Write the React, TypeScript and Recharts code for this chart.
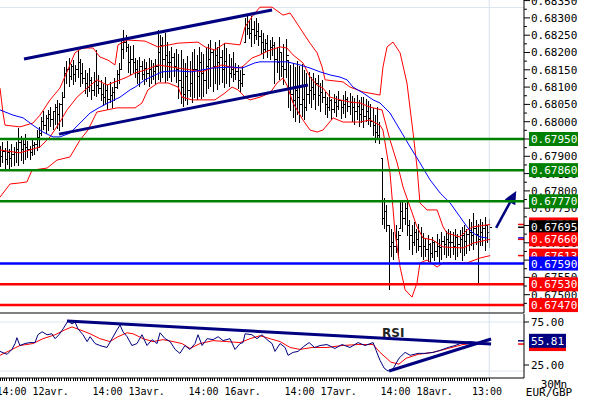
import React from 'react';
import { ComposedChart, Bar, Line, XAxis, YAxis, ReferenceLine, ReferenceDot } from 'recharts';

// EUR/GBP 30Mn. Prices are kept in 0.00001 steps above 0.67000
const BASE = 0.67;
const px = (u: number) => BASE + u / 100000;

const highs = [
  930, 940, 925, 945, 920, 935, 928, 942,
  982, 960, 950, 965,
  945, 930, 950, 940, 975, 985,
  1015, 1030, 1020, 1035, 1042, 1030, 1050, 1063, 1055, 1086,
  1158, 1175, 1184, 1168, 1178, 1165, 1207, 1180, 1170,
  1150, 1140, 1155, 1130, 1145, 1207, 1135,
  1120, 1110, 1129, 1105, 1115, 1100, 1125,
  1150, 1170,
  1240, 1265, 1250, 1225, 1220,
  1222, 1185, 1178, 1187, 1175, 1180, 1172, 1185, 1178, 1170, 1182,
  1265, 1250, 1245, 1255, 1230,
  1205, 1216, 1198, 1210,
  1195, 1207, 1180, 1170, 1190, 1175, 1200,
  1210, 1193, 1216, 1200, 1195, 1212,
  1225, 1236, 1210, 1230, 1215, 1235, 1207, 1228,
  1213, 1195, 1185, 1200, 1170,
  1165, 1150, 1160,
  1300, 1308, 1295, 1305, 1290, 1300, 1285,
  1265, 1255, 1240, 1250, 1236, 1245,
  1230, 1215, 1245, 1200, 1225, 1240,
  1178, 1165, 1170, 1158, 1175, 1160, 1168, 1150, 1140,
  1144, 1130, 1140, 1125, 1135, 1112, 1120,
  1085, 1070, 1092, 1065, 1080, 1075, 1088, 1063, 1078, 1090, 1070, 1082,
  1075, 1068, 1077, 1063, 1070, 1072, 1065, 1060, 1050,
  1040, 1020, 1042, 1000,
  895, 780, 760, 700,
  690, 680, 700, 685,
  774, 770, 765, 775,
  716, 700, 710, 690, 705, 695,
  678, 660, 672, 650, 668, 655, 675, 662, 680, 670, 685, 690,
  685, 680, 690, 675, 688, 695, 700, 690,
  720, 710, 735, 715, 705, 720,
  710, 725, 700, 720,
];

const lows = [
  870, 880, 862, 875, 858, 868, 872, 880,
  872, 885, 878, 890,
  895, 890, 900, 905, 915, 925,
  960, 975, 965, 972, 985, 975, 990, 980, 972, 985,
  1071, 1110, 1100, 1120, 1105, 1115, 1125, 1100, 1108,
  1080, 1070, 1085, 1063, 1075, 1072, 1080,
  1060, 1045, 1050, 1034, 1055, 1040, 1060,
  1095, 1110,
  1150, 1180, 1200, 1140, 1135,
  1140, 1125, 1110, 1100, 1120, 1105, 1115, 1100, 1110, 1120, 1105,
  1120, 1115, 1125, 1112, 1118,
  1125, 1115, 1129, 1112,
  1065, 1050, 1042, 1060, 1048, 1071, 1055,
  1068, 1063, 1070, 1065, 1071, 1080,
  1095, 1100, 1086, 1110, 1092, 1105, 1112, 1098,
  1110, 1100, 1126, 1115, 1120,
  1095, 1086, 1100,
  1230, 1250, 1240, 1216, 1225, 1236, 1220,
  1195, 1180, 1200, 1185, 1178, 1190,
  1110, 1140, 1120, 1130, 1106, 1125,
  1040, 1030, 1010, 1000, 1020, 996, 1015, 1005, 1030,
  1050, 1040, 1063, 1035, 1045, 1028, 1055,
  1020, 1010, 1030, 1005, 1025, 1015, 1034, 1008, 1022, 1012, 1028, 1018,
  1000, 990, 1005, 985, 995, 982, 1000, 990, 985,
  960, 938, 950, 935,
  700, 690, 680, 514,
  610, 600, 620, 605,
  690, 680, 700, 670,
  630, 615, 640, 620, 625, 610,
  600, 610, 595, 588, 605, 598, 610, 592, 600, 615, 605, 612,
  605, 615, 600, 610, 620, 598, 612, 618,
  625, 640, 630, 645, 534, 640,
  640, 625, 650, 635,
];

const closes = [
  900, 915, 890, 910, 895, 905, 912, 920,
  940, 920, 935, 925,
  920, 910, 930, 935, 955, 965,
  1000, 990, 1010, 1020, 1005, 1030, 1040, 1020, 1050, 1070,
  1140, 1150, 1130, 1160, 1135, 1150, 1170, 1140, 1125,
  1110, 1100, 1120, 1090, 1115, 1105, 1095,
  1080, 1070, 1090, 1065, 1075, 1085, 1100,
  1135, 1150,
  1210, 1230, 1215, 1170, 1180,
  1170, 1150, 1140, 1160, 1135, 1155, 1140, 1150, 1130, 1145, 1160,
  1200, 1220, 1180, 1190, 1170,
  1170, 1185, 1160, 1150,
  1120, 1100, 1080, 1130, 1090, 1110, 1150,
  1150, 1130, 1170, 1140, 1120, 1160,
  1180, 1200, 1160, 1190, 1170, 1185, 1150, 1175,
  1160, 1140, 1150, 1135, 1145,
  1120, 1110, 1135,
  1280, 1270, 1255, 1265, 1250, 1260, 1245,
  1230, 1210, 1225, 1205, 1215, 1220,
  1180, 1170, 1200, 1160, 1150, 1190,
  1100, 1080, 1060, 1090, 1070, 1050, 1065, 1040, 1080,
  1090, 1100, 1080, 1110, 1075, 1085, 1070,
  1050, 1040, 1060, 1035, 1055, 1045, 1060, 1040, 1050, 1065, 1045, 1055,
  1040, 1030, 1045, 1020, 1035, 1015, 1030, 1010, 1000,
  990, 970, 960, 950,
  720, 740, 700, 640,
  650, 640, 660, 670,
  740, 720, 750, 700,
  670, 650, 680, 660, 640, 665,
  640, 630, 645, 620, 650, 625, 640, 635, 655, 645, 660, 650,
  650, 640, 665, 645, 660, 670, 655, 675,
  680, 670, 690, 675, 660, 680,
  690, 700, 680, 695,
];

// [bar index, price step]
const upperBand = [
  [0, 1097], [1.3, 1025], [2.2, 990], [8.7, 985], [14.4, 996], [17.5, 1019], [21.9, 1063],
  [26.2, 1097], [29.3, 1144], [32.8, 1199], [35.9, 1213], [40.7, 1213], [43.7, 1187],
  [47.2, 1178], [50.3, 1164], [51.6, 1222], [55.6, 1236], [63.4, 1233], [69.1, 1216],
  [77.9, 1227], [86.6, 1230], [89.7, 1216], [94, 1207], [98.4, 1227], [105, 1222],
  [107.2, 1274], [110.2, 1303], [113.7, 1331], [119, 1331], [123.8, 1308], [126.9, 1314],
  [131.2, 1271], [135.6, 1227], [138.7, 1199], [140.9, 1158], [142.2, 1121], [150, 1115],
  [153.1, 1100], [158.8, 1086], [166.2, 1077], [167.5, 1158], [169.3, 1216], [171.9, 1230],
  [175, 1199], [178, 1112], [180.7, 967], [182.4, 869], [183.7, 765], [186.8, 745],
  [191.2, 745], [193.8, 696], [195.5, 678], [201.2, 667], [204.3, 687], [206.9, 696],
  [214.4, 703],
];

const middleBand = [
  [0, 918], [8.7, 910], [17.5, 927], [21.9, 956], [26.2, 999], [29.3, 1034], [33.7, 1071],
  [38.1, 1097], [42.4, 1121], [46.8, 1106], [50.3, 1115], [55.6, 1129], [59.1, 1141],
  [63.4, 1149], [69.1, 1164], [77.9, 1155], [84, 1149], [88.4, 1144], [92.7, 1155],
  [97.1, 1164], [102.8, 1155], [105.9, 1158], [110.2, 1184], [113.7, 1193], [118.1, 1207],
  [122.5, 1216], [125.5, 1213], [128.2, 1193], [132.5, 1170], [135.6, 1129], [138.7, 1106],
  [141.3, 1097], [144.4, 1071], [148.7, 1063], [153.1, 1057], [157.5, 1054], [161.9, 1042],
  [167.1, 1034], [170.6, 947], [173.7, 881], [176.3, 811], [179.4, 753], [182.4, 696],
  [185, 664], [189.4, 658], [193.8, 638], [202.5, 635], [206.9, 649], [214.4, 660],
];

const lowerBand = [
  [0, 782], [4.4, 820], [8.7, 823], [11.8, 826], [14, 860], [20.6, 866], [24.9, 889],
  [30.6, 898], [35, 947], [38.5, 976], [42.4, 1028], [46.8, 1034], [51.2, 1040],
  [59.1, 1040], [62.1, 1054], [64.7, 1092], [69.1, 1112], [73.5, 1112], [77.9, 1100],
  [79.6, 1071], [84, 1063], [94, 1063], [98.4, 1083], [101.5, 1100], [104.1, 1092],
  [107.2, 1071], [109.4, 1063], [113.7, 1071], [118.1, 1083], [121.2, 1112], [123.8, 1126],
  [125.5, 1106], [128.2, 1054], [132.5, 1005], [135.6, 976], [138.7, 970], [141.3, 976],
  [145.7, 1011], [150, 999], [157.5, 999], [161.9, 1005], [166.2, 990], [167.5, 976],
  [170.6, 852], [172.8, 678], [175, 580], [177.2, 514], [180.2, 493], [182.4, 534],
  [183.7, 592], [186.8, 600], [191.2, 580], [193.8, 592], [204.3, 592], [210, 606],
  [214.4, 613],
];

const movingAvg = [
  [0, 1034], [5.7, 1019], [10.1, 1011], [14.4, 990], [18.8, 970], [23.2, 956], [26.2, 956],
  [30.6, 967], [35, 996], [39.4, 1025], [43.7, 1042], [48.1, 1057], [52.5, 1071],
  [56.9, 1092], [59.1, 1100], [63.4, 1121], [67.8, 1135], [70.9, 1144], [76.6, 1147],
  [84, 1144], [92.7, 1155], [101.5, 1158], [105.9, 1155], [111.5, 1170], [113.7, 1173],
  [125.5, 1173], [131.2, 1164], [135.6, 1155], [140, 1144], [144.4, 1135], [148.7, 1129],
  [151.8, 1121], [154.4, 1100], [158.8, 1083], [163.2, 1063], [166.2, 1054], [170.6, 1025],
  [175, 976], [179.4, 927], [183.7, 881], [188.1, 832], [192.5, 794], [196.9, 765],
  [201.2, 725], [204.3, 696], [206.9, 678], [210, 667], [213, 664],
];

// RSI [bar index, value]
const rsiLine = [
  [0, 45], [3.1, 42], [5.2, 47], [6.6, 53], [7.4, 59], [8.7, 51], [10.9, 53], [13.1, 54],
  [15.3, 54], [16.6, 62], [18.4, 65], [20.6, 62], [22.7, 63], [24.1, 58], [25.8, 62],
  [27.6, 68], [29.7, 76], [31.5, 73], [32.8, 75], [34.1, 68], [36.3, 62], [38.1, 55],
  [39.4, 60], [41.6, 53], [43.7, 51], [46.8, 49], [49, 58], [51.2, 67], [52.5, 72],
  [53.8, 65], [55.6, 60], [57.7, 51], [59.9, 53], [62.1, 62], [64.3, 51], [66.5, 57],
  [68.7, 53], [70, 64], [72.2, 58], [74.4, 55], [76.6, 47], [78.7, 43], [80.9, 51],
  [83.1, 47], [85.3, 53], [86.6, 62], [88.4, 51], [90.6, 58], [93.2, 57], [95.4, 60],
  [97.6, 56], [100.6, 58], [102.8, 47], [105, 53], [106.3, 54], [107.2, 63], [110.2, 62],
  [112.4, 58], [114.6, 62], [116.8, 57], [119, 53], [120.3, 45], [122.5, 53], [124.7, 49],
  [126, 41], [128.2, 44], [130.4, 45], [132.8, 50], [135.2, 54], [137.6, 49], [140, 51],
  [143, 52], [146.5, 48], [149.6, 52], [153.1, 49], [156.6, 54], [159.7, 51], [163.2, 54],
  [164.5, 46], [166.2, 36], [168, 28], [169.7, 25], [171.9, 27], [174.5, 38], [177.2, 44],
  [179.4, 41], [182.9, 43], [185.9, 43], [189.4, 44], [192.5, 46], [196, 49], [199, 51],
  [202.5, 54], [205.6, 55], [209.1, 54], [212.6, 56], [214, 55.81],
];

const rsiSignal = [
  [0, 41], [4.4, 46], [8.7, 51], [14.4, 53], [18.8, 58], [24.1, 62], [28.4, 67], [31.5, 70],
  [35, 67], [39.4, 63], [43.7, 58], [48.1, 55], [51.6, 60], [55.6, 64], [58.2, 63],
  [62.6, 58], [66.9, 55], [71.3, 57], [75.7, 55], [79.6, 53], [83.1, 48], [87.5, 53],
  [93.2, 56], [99.3, 55], [105, 54], [109.4, 58], [113.7, 61], [118.1, 58], [122.5, 55],
  [126.9, 49], [131.2, 47], [136.5, 49], [143, 49], [149.6, 51], [156.6, 52], [163.2, 52],
  [166.2, 44], [171, 34], [174.5, 32], [177.6, 38], [182.9, 42], [189.4, 44], [196, 48],
  [202.5, 52], [209.1, 54], [214, 53],
];

const priceTicks = [
  0.675, 0.6755, 0.676, 0.6765, 0.677, 0.6775, 0.678, 0.6785, 0.679,
  0.6795, 0.68, 0.6805, 0.681, 0.6815, 0.682, 0.6825, 0.683, 0.6835,
];
const rsiTicks = [75, 25];
const timeTickIdx = [5, 47, 89, 131, 173, 213];
const timeTickText = ['14:00 12avr.', '14:00 13avr.', '14:00 16avr.', '14:00 17avr.', '14:00 18avr.', '13:00'];

// horizontal levels drawn across the chart
const levels = [
  { price: 0.6795, color: '#008000' },
  { price: 0.6786, color: '#008000' },
  { price: 0.6777, color: '#008000' },
  { price: 0.6759, color: '#0000ff' },
  { price: 0.6753, color: '#ff0000' },
  { price: 0.6747, color: '#ff0000' },
];
// last values of the bands / close / average, marked at the axis
const lastValues = [
  { price: 0.67703, color: '#ff0000', box: true },
  { price: 0.67695, color: '#000000', box: true },
  { price: 0.67664, color: '#0000ff', box: false },
  { price: 0.67613, color: '#ff0000', box: true },
  { price: 0.6766, color: '#ff0000', box: true },
];

const X_DOMAIN = [0, 229.2];
const P_DOMAIN = [0.674471, 0.683517];
const RSI_DOMAIN = [17.86, 83.16];
const MONO = 'DejaVu Sans Mono';
const NAVY = '#000080';

const bars = highs.map((h, i) => {
  const open = i === 0 ? closes[0] : closes[i - 1];
  return {
    i,
    range: [px(lows[i]), px(h)],
    high: px(h),
    low: px(lows[i]),
    open: px(open),
    close: px(closes[i]),
  };
});
const barIdx = bars.map(b => b.i);
const toPts = (arr: number[][]) => arr.map(([i, u]) => ({ i, v: px(u) }));
const toRsi = (arr: number[][]) => arr.map(([i, v]) => ({ i, v }));

const minorTicks = priceTicks.slice(0, -1).map(p => p + 0.00025);
const allPriceTicks = [0.67475, ...priceTicks, ...minorTicks];

// boxes on the price axis, in drawing order (later ones on top)
const boxes = [...lastValues.filter(l => l.box), ...levels];
const boxTicks = boxes.map(b => b.price);

const OhlcShape = (props: any) => {
  const { x, y, width, height, payload } = props;
  if (x == null || !payload) return null;
  const cx = Math.round(x + width / 2) + 0.5;
  const top = Math.min(y, y + height);
  const h = Math.abs(height);
  const { high, low, open, close } = payload;
  const span = high - low || 1e-9;
  const clamp = (v: number) => Math.min(high, Math.max(low, v));
  const oy = top + ((high - clamp(open)) / span) * h;
  const cy = top + ((high - clamp(close)) / span) * h;
  return (
    <g stroke="#000" shapeRendering="crispEdges">
      <line x1={cx} x2={cx} y1={top} y2={top + h} strokeWidth={1.5} />
      <line x1={cx - 2} x2={cx} y1={oy} y2={oy} strokeWidth={1} />
      <line x1={cx} x2={cx + 2} y1={cy} y2={cy} strokeWidth={1} />
    </g>
  );
};

const PriceTick = (props: any) => {
  const { x, y, payload } = props;
  const v = payload.value;
  const major = Math.abs(Math.round(v * 2000) - v * 2000) < 1e-6;
  return (
    <g>
      <line x1={x} x2={x + (major ? 6 : 3)} y1={y} y2={y} stroke="#000" />
      {major && (
        <text x={x + 7} y={y + 4} fontSize={11} fontFamily={MONO} fill="#000">
          {v.toFixed(5)}
        </text>
      )}
    </g>
  );
};

// draws the value boxes; this thin axis sits at the far right edge
const BoxTick = (props: any) => {
  const { x, y, payload, index } = props;
  const b = boxes[index] || boxes.find(o => o.price === payload.value);
  if (!b) return null;
  const bx = x - 60;
  return (
    <g>
      <rect x={bx} y={y - 7} width={49} height={14} fill={b.color} />
      <text x={bx + 2} y={y + 4} fontSize={11} fontFamily={MONO} fill="#fff">
        {b.price.toFixed(5)}
      </text>
    </g>
  );
};

const RsiTick = (props: any) => {
  const { x, y, payload } = props;
  const dy = payload.value === 25 ? -6 : 0;
  return (
    <g>
      <line x1={x} x2={x + 5} y1={y + dy} y2={y + dy} stroke="#000" />
      <text x={x + 7} y={y + dy + 4} fontSize={11} fontFamily={MONO} fill="#000">
        {payload.value.toFixed(2)}
      </text>
    </g>
  );
};

const TimeTick = (props: any) => {
  const { x, y, payload } = props;
  const k = timeTickIdx.indexOf(payload.value);
  const last = k === timeTickIdx.length - 1;
  return (
    <g>
      <line x1={x} x2={x} y1={y} y2={y + 3} stroke="#000" shapeRendering="crispEdges" />
      {k >= 0 && (
        <text
          x={last ? x : x - 15}
          y={y + 17}
          textAnchor={last ? 'middle' : 'start'}
          fontSize={10}
          fontFamily={MONO}
          fill="#000"
        >
          {timeTickText[k]}
        </text>
      )}
    </g>
  );
};

const boxLabel = (text: string, fill: string, w = 49) => (props: any) => {
  const { viewBox } = props;
  if (!viewBox) return null;
  const x = viewBox.x + viewBox.width + 5;
  const y = viewBox.y;
  return (
    <g>
      <rect x={x} y={y - 7} width={w} height={14} fill={fill} />
      {text && (
        <text x={x + 2} y={y + 4} fontSize={11} fontFamily={MONO} fill="#fff">
          {text}
        </text>
      )}
    </g>
  );
};

const ArrowShape = (props: any) => {
  const { x1, y1, x2, y2 } = props;
  const dx = x2 - x1;
  const dy = y2 - y1;
  const len = Math.sqrt(dx * dx + dy * dy) || 1;
  const ux = dx / len;
  const uy = dy / len;
  const bx = x2 - ux * 13;
  const by = y2 - uy * 13;
  return (
    <g>
      <line x1={x1} y1={y1} x2={bx} y2={by} stroke={NAVY} strokeWidth={2.5} />
      <polygon
        points={`${x2},${y2} ${bx - uy * 6},${by + ux * 6} ${bx + uy * 6},${by - ux * 6}`}
        fill={NAVY}
      />
    </g>
  );
};

const lineProps = { strokeWidth: 1, dot: false, activeDot: false, isAnimationActive: false } as const;

const App = () => {
  return (
    <div style={{ position: 'absolute', left: 0, top: 0, width: 590, height: 400, background: '#fff', overflow: 'hidden' }}>
      <div style={{ position: 'absolute', left: 0, top: 0 }}>
        <ComposedChart width={590} height={314} data={bars} margin={{ top: 0, right: 0, bottom: 0, left: 0 }}>
          <XAxis
            dataKey="i"
            type="number"
            domain={X_DOMAIN}
            allowDataOverflow
            height={1}
            tick={false}
            tickLine={false}
            axisLine={{ stroke: '#000' }}
          />
          <YAxis
            orientation="right"
            type="number"
            domain={P_DOMAIN}
            allowDataOverflow
            width={65}
            ticks={allPriceTicks}
            interval={0}
            tickSize={0}
            tickMargin={0}
            tickLine={false}
            axisLine={{ stroke: '#000' }}
            tick={PriceTick}
          />
          <YAxis
            yAxisId="boxes"
            orientation="right"
            type="number"
            domain={P_DOMAIN}
            allowDataOverflow
            width={1}
            ticks={boxTicks}
            interval={0}
            tickSize={0}
            tickMargin={0}
            tickLine={false}
            axisLine={false}
            tick={BoxTick}
          />
          <ReferenceLine y={0.6833} stroke="#dde6ee" />
          <ReferenceLine x={214} stroke="#d5e2ec" />
          <Bar dataKey="range" barSize={2} shape={OhlcShape} isAnimationActive={false} />
          <Line data={toPts(upperBand)} dataKey="v" stroke="#ff0000" {...lineProps} />
          <Line data={toPts(middleBand)} dataKey="v" stroke="#ff0000" {...lineProps} />
          <Line data={toPts(lowerBand)} dataKey="v" stroke="#ff0000" {...lineProps} />
          <Line data={toPts(movingAvg)} dataKey="v" stroke="#0000ff" {...lineProps} />

          {/* channel */}
          <ReferenceLine segment={[{ x: 10.5, y: px(1181) }, { x: 119, y: px(1323) }]} stroke={NAVY} strokeWidth={3} />
          <ReferenceLine segment={[{ x: 25.8, y: px(964) }, { x: 134.7, y: px(1106) }]} stroke={NAVY} strokeWidth={3} />
          <ReferenceLine
            segment={[{ x: 217, y: px(693) }, { x: 225.8, y: px(800) }]}
            shape={ArrowShape}
            ifOverflow="visible"
          />

          {lastValues.map(l => (
            <ReferenceLine
              key={l.price}
              segment={[{ x: 226.6, y: l.price }, { x: 229.2, y: l.price }]}
              stroke={l.color}
              strokeWidth={1.5}
              ifOverflow="visible"
            />
          ))}
          {levels.map(l => (
            <ReferenceLine key={l.price} y={l.price} stroke={l.color} strokeWidth={2.5} />
          ))}
        </ComposedChart>
      </div>

      <div style={{ position: 'absolute', left: 0, top: 314 }}>
        <ComposedChart width={590} height={86} margin={{ top: 0, right: 0, bottom: 0, left: 0 }}>
          <XAxis
            dataKey="i"
            type="number"
            domain={X_DOMAIN}
            allowDataOverflow
            height={22}
            ticks={barIdx}
            interval={0}
            tickSize={0}
            tickMargin={0}
            tickLine={false}
            axisLine={{ stroke: '#000' }}
            tick={TimeTick}
          />
          <YAxis
            orientation="right"
            type="number"
            domain={RSI_DOMAIN}
            allowDataOverflow
            width={66}
            ticks={rsiTicks}
            interval={0}
            tickSize={0}
            tickMargin={0}
            tickLine={false}
            axisLine={{ stroke: '#000' }}
            tick={RsiTick}
          />
          <ReferenceLine y={75} stroke="#dde6ee" />
          <ReferenceLine y={25} stroke="#dde6ee" />
          <ReferenceLine x={214} stroke="#d5e2ec" />
          <Line data={toRsi(rsiSignal)} dataKey="v" stroke="#ff0000" {...lineProps} />
          <Line data={toRsi(rsiLine)} dataKey="v" stroke={NAVY} {...lineProps} />
          <ReferenceLine segment={[{ x: 29.3, y: 76 }, { x: 214.8, y: 52.6 }]} stroke={NAVY} strokeWidth={3} />
          <ReferenceLine segment={[{ x: 170.2, y: 25 }, { x: 214.8, y: 57.7 }]} stroke={NAVY} strokeWidth={3} />
          <ReferenceDot
            x={172}
            y={63.8}
            r={0}
            fill="none"
            stroke="none"
            label={{ value: 'RSI', position: 'center', fontSize: 12, fontWeight: 'bold', fontFamily: 'DejaVu Sans', fill: '#222' }}
          />
          <ReferenceLine
            segment={[{ x: 226.6, y: 52.5 }, { x: 229.2, y: 52.5 }]}
            stroke="#ff0000"
            strokeWidth={1.5}
            ifOverflow="visible"
            label={boxLabel('', '#ff0000', 37)}
          />
          <ReferenceLine
            segment={[{ x: 226.6, y: 55.81 }, { x: 229.2, y: 55.81 }]}
            stroke={NAVY}
            strokeWidth={1.5}
            ifOverflow="visible"
            label={boxLabel('55.81', NAVY, 37)}
          />
        </ComposedChart>
      </div>

      <div style={{ position: 'absolute', left: 521, top: 380, width: 66, textAlign: 'center', fontFamily: MONO, fontSize: 11, lineHeight: '10px' }}>
        30Mn
      </div>
      <div style={{ position: 'absolute', left: 516, top: 388, width: 66, textAlign: 'center', fontFamily: MONO, fontSize: 11, lineHeight: '10px' }}>
        EUR/GBP
      </div>
    </div>
  );
};

export default App;
